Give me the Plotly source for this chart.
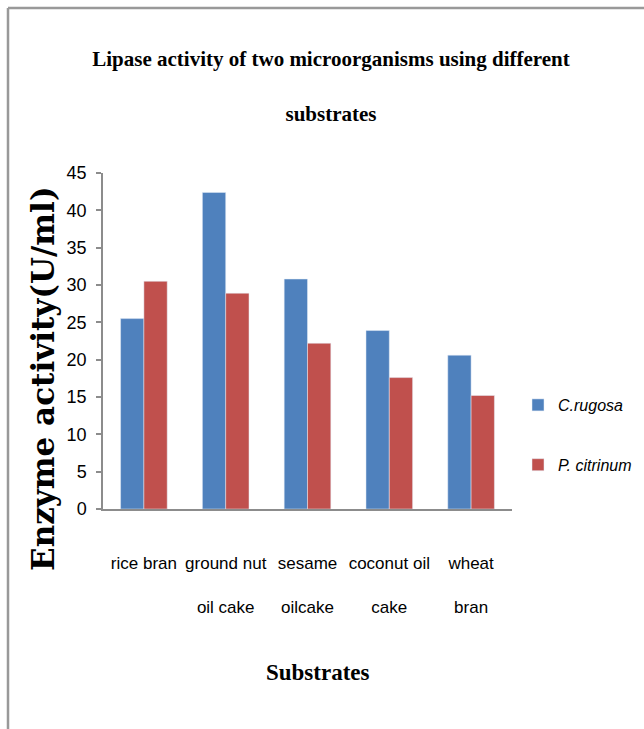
import plotly.graph_objects as go

# Substrates on the x axis and lipase activity (U/ml) of each organism
substrates = ["rice bran", "ground nut<br><br>oil cake", "sesame<br><br>oilcake",
              "coconut oil<br><br>cake", "wheat<br><br>bran"]
c_rugosa = [25.5, 42.4, 30.8, 23.9, 20.6]
p_citrinum = [30.5, 28.9, 22.2, 17.6, 15.2]
y_ticks = [0, 5, 10, 15, 20, 25, 30, 35, 40, 45]

W, H = 644, 729
ML, MR, MT, MB = 103, 132, 173, 220
PW, PH = W - ML - MR, H - MT - MB


def px_x(x):
    return (x - ML) / PW


def px_y(y):
    return (H - MB - y) / PH


sans = "Liberation Sans, Arial, sans-serif"
serif = "Liberation Serif, Times New Roman, serif"

fig = go.Figure()
fig.add_trace(go.Bar(x=substrates, y=c_rugosa, name="C.rugosa",
                     marker=dict(color="#4F81BD"), legendgroup="a"))
fig.add_trace(go.Bar(x=substrates, y=p_citrinum, name="P. citrinum",
                     marker=dict(color="#C0504D"), legendgroup="b"))

fig.update_layout(
    width=W, height=H,
    margin=dict(l=ML, r=MR, t=MT, b=MB, autoexpand=False),
    paper_bgcolor="white", plot_bgcolor="white",
    barmode="group", bargap=0.43, bargroupgap=0,
    title=dict(
        text="Lipase activity of two microorganisms using different<br><br>substrates",
        font=dict(family=serif, size=21, color="black", weight="bold"),
        x=331 / W, xanchor="center", xref="container",
        y=1 - 66 / H, yanchor="top", yref="container",
    ),
    xaxis=dict(
        showline=True, linecolor="#8c8c8c", linewidth=1.5,
        ticks="", showgrid=False, zeroline=False,
        tickangle=0, automargin=False,
        tickfont=dict(family=sans, size=17, color="black"),
        ticklabelstandoff=38,
    ),
    yaxis=dict(
        range=[0, 45], tickvals=y_ticks, automargin=False,
        showline=True, linecolor="#8c8c8c", linewidth=1.5,
        ticks="outside", ticklen=5, tickcolor="#8c8c8c", tickwidth=1.5,
        showgrid=False, zeroline=False,
        tickfont=dict(family=sans, size=18, color="black"),
        ticklabelstandoff=6,
    ),
    legend=dict(
        x=px_x(518), y=px_y(388), xanchor="left", yanchor="top",
        traceorder="grouped", tracegroupgap=36, itemwidth=30,
        font=dict(family=sans, size=16, color="black", style="italic"),
        bgcolor="rgba(0,0,0,0)",
    ),
    showlegend=True,
    annotations=[
        dict(text="Enzyme activity(U/ml)", textangle=-90,
             xref="paper", yref="paper", x=px_x(43), y=px_y(379),
             xanchor="center", yanchor="middle", showarrow=False,
             font=dict(family="DejaVu Serif, serif", size=31,
                       color="black", weight="bold")),
        dict(text="Substrates",
             xref="paper", yref="paper", x=px_x(318), y=px_y(672),
             xanchor="center", yanchor="middle", showarrow=False,
             font=dict(family=serif, size=23, color="black", weight="bold")),
    ],
    shapes=[
        dict(type="line", xref="paper", yref="paper",
             x0=px_x(8), x1=px_x(8), y0=px_y(8), y1=px_y(H),
             line=dict(color="#999999", width=2.5)),
        dict(type="line", xref="paper", yref="paper",
             x0=px_x(8), x1=px_x(W), y0=px_y(8), y1=px_y(8),
             line=dict(color="#999999", width=2.5)),
    ],
)

fig.write_html("out.html")
